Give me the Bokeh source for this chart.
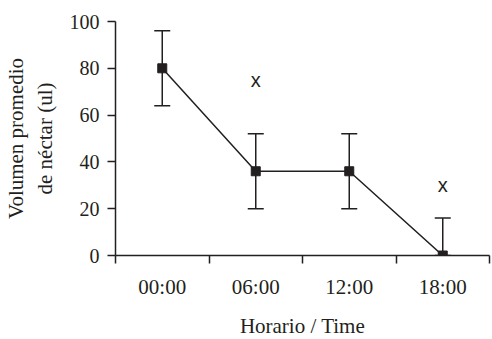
from bokeh.plotting import figure
from bokeh.models import ColumnDataSource, FixedTicker, Whisker, TeeHead, Range1d
from bokeh.core.properties import value
from bokeh.embed import file_html
from bokeh.resources import INLINE

times = ["00:00", "06:00", "12:00", "18:00"]
mean_volume = [80, 36, 36, 0]
upper_err = [96, 52, 52, 16]
lower_err = [64, 20, 20, 0]
sig_times = ["06:00", "18:00"]
sig_y = [75, 30]
sig_marks = ["x", "x"]
y_ticks = [0, 20, 40, 60, 80, 100]

INK = "#231f20"
xpos = [i + 0.5 for i in range(len(times))]
src = ColumnDataSource(dict(x=xpos, y=mean_volume, upper=upper_err, lower=lower_err))
sig_src = ColumnDataSource(dict(x=[times.index(t) + 0.5 for t in sig_times], y=sig_y, t=sig_marks))

p = figure(frame_width=374, frame_height=234, output_backend="svg", toolbar_location=None,
           x_range=Range1d(0, len(times)), y_range=Range1d(0, 100),
           min_border_left=108, min_border_right=2, min_border_top=21, min_border_bottom=70)
p.outline_line_color = None
p.grid.visible = False
p.background_fill_color = "white"
p.border_fill_color = "white"

p.line("x", "y", source=src, line_color=INK, line_width=1.5)
w = Whisker(base="x", upper="upper", lower="lower", source=src, line_color=INK, line_width=1.5,
            upper_head=TeeHead(size=16, line_color=INK, line_width=1.5),
            lower_head=TeeHead(size=16, line_color=INK, line_width=1.5))
p.add_layout(w)
p.scatter("x", "y", source=src, marker="square", size=9, fill_color=INK, line_color=INK)
p.text("x", "y", text="t", source=sig_src, text_font=value("Liberation Sans"), text_font_size="20px",
       text_align="center", text_baseline="middle", text_color=INK)

xa = p.xaxis[0]
xa.ticker = FixedTicker(ticks=xpos, minor_ticks=list(range(len(times) + 1)))
xa.major_label_overrides = {x: t for x, t in zip(xpos, times)}
xa.major_tick_out = 0
xa.major_tick_in = 0
xa.minor_tick_out = 8
xa.minor_tick_in = 0
xa.minor_tick_line_color = INK
xa.minor_tick_line_width = 1.5
xa.major_label_standoff = 11
xa.axis_label = "Horario / Time"
xa.axis_label_standoff = 12

ya = p.yaxis[0]
ya.ticker = FixedTicker(ticks=y_ticks, minor_ticks=[])
ya.major_tick_out = 8
ya.major_tick_in = 0
ya.major_label_standoff = 8
ya.axis_label = "Volumen promedio\nde néctar (ul)"
ya.axis_label_standoff = 10

for ax in (xa, ya):
    ax.axis_line_color = INK
    ax.axis_line_width = 1.5
    ax.major_tick_line_color = INK
    ax.major_tick_line_width = 1.5
    ax.major_label_text_font = "Liberation Serif"
    ax.major_label_text_font_size = "21px"
    ax.major_label_text_color = INK
    ax.axis_label_text_font = "Liberation Serif"
    ax.axis_label_text_font_size = "21px"
    ax.axis_label_text_font_style = "normal"
    ax.axis_label_text_color = INK
ya.major_label_text_font_size = "20px"

open("out.html", "w").write(file_html(p, INLINE))
